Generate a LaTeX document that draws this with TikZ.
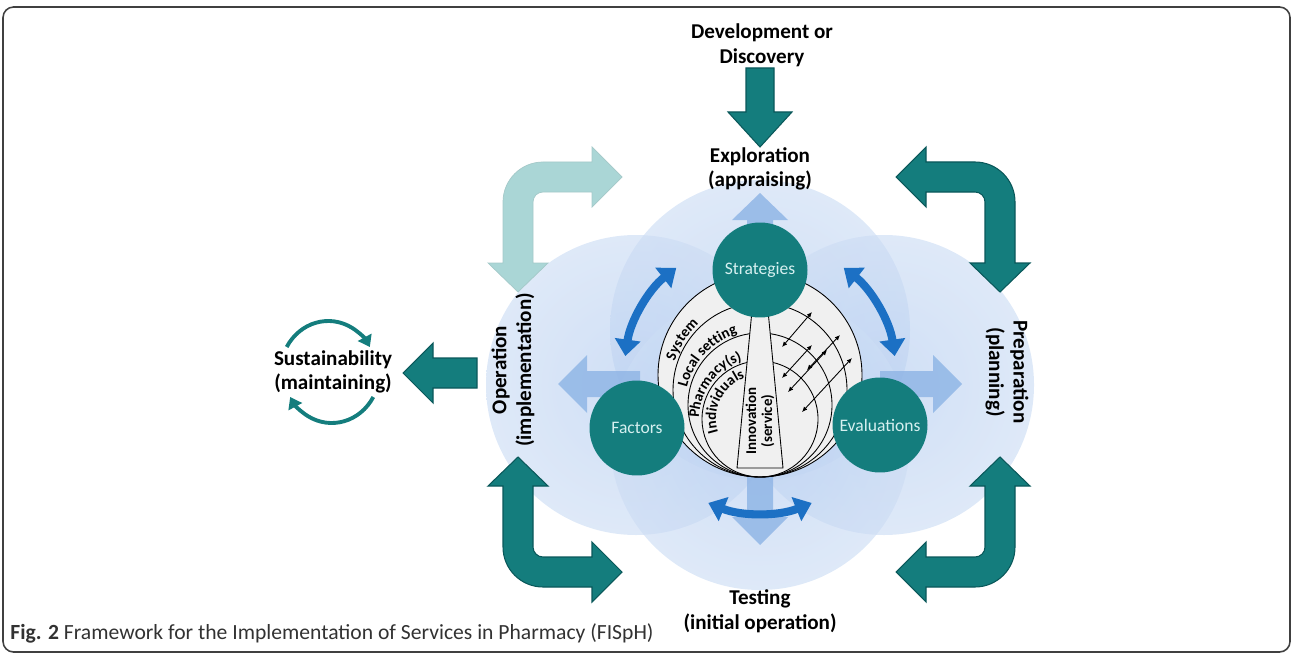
\documentclass[tikz,border=0pt]{standalone}
\usepackage{fontspec}
\setmainfont{Carlito}
\usepackage{xcolor}
\usepackage{tikz}
\usetikzlibrary{arrows.meta,decorations.text}

\definecolor{tealA}{RGB}{20,125,125}
\definecolor{tealD}{RGB}{10,88,90}
\definecolor{tealL}{RGB}{170,214,214}
\definecolor{spinblue}{RGB}{28,112,196}
\definecolor{paleblue}{RGB}{145,182,230}
\definecolor{blobin}{RGB}{182,206,240}
\definecolor{blobout}{RGB}{228,236,249}
\definecolor{ringfill}{RGB}{240,240,240}
\definecolor{captext}{RGB}{50,50,50}
\definecolor{celltext}{RGB}{214,240,240}

\newcommand\ringfont{\fontsize{8.5}{9}\selectfont\bfseries}

\pgfdeclareradialshading{blob}{\pgfpoint{0bp}{0bp}}{color(0bp)=(blobin); color(50bp)=(blobout); color(75bp)=(blobout)}

\begin{document}
\begin{tikzpicture}[x=0.02cm, y=-0.02cm]
        \tikzset{phase/.style = {font=\fontsize{12}{14}\selectfont\bfseries, align=center}}
        \tikzset{cell/.style = {shape=circle, fill=tealA, minimum size=1.9cm, inner sep=0pt, text=celltext, font=\fontsize{10}{12}\selectfont}}
        \tikzset{ringlabel/.style = {decorate, decoration={text along path, text align=center, text={|\ringfont|#1}}}}
        \tikzset{spin/.style = {draw=spinblue, line width=4.6pt, >={Triangle[width=0.5cm,length=0.33cm]}, <->}}
        \tikzset{link/.style = {line width=0.5pt, >={Latex[length=3pt,width=2.6pt]}, <->}}
        \tikzset{cyclearc/.style = {draw=tealA, line width=2.2pt, -{Triangle[width=0.3cm,length=0.22cm]}}}
        \tikzset{bigarrow/.style = {fill=tealA, draw=tealD, line width=0.6pt}}
        \tikzset{softarrow/.style = {fill=paleblue, fill opacity=0.85}}
        \tikzset{bendstyle/.style = {bigarrow}}
        \tikzset{bendarrow/.pic = {\path[bendstyle] (0,115) -- (30,86) -- (15,86) -- (15,25)
            arc[start angle=-180, end angle=-90, radius=10] -- (74,15) -- (74,30) -- (104,0)
            -- (74,-30) -- (74,-15) -- (25,-15) arc[start angle=-90, end angle=-180, radius=40]
            -- (-15,86) -- (-30,86) -- cycle;}}
        \useasboundingbox (0,0) rectangle (1293,655);
        % background blobs
        \shade[shading=blob, opacity=0.65] (760,330) circle[radius=150];
        \shade[shading=blob, opacity=0.65] (636,385) circle[radius=150];
        \shade[shading=blob, opacity=0.65] (884,385) circle[radius=150];
        \shade[shading=blob, opacity=0.65] (760,440) circle[radius=150];
        % pale arrows out of the core
        \path[softarrow] (747,265) -- (747,220) -- (732,220) -- (760,193) -- (788,220) -- (773,220) -- (773,265) -- cycle;
        \path[softarrow] (747,468) -- (747,517) -- (732,517) -- (760,545) -- (788,517) -- (773,517) -- (773,468) -- cycle;
        \path[softarrow] (640,371) -- (587,371) -- (587,355) -- (558,384) -- (587,413) -- (587,397) -- (640,397) -- cycle;
        \path[softarrow] (880,371) -- (933,371) -- (933,355) -- (962,384) -- (933,413) -- (933,397) -- (880,397) -- cycle;
        % core rings, all touching at the bottom
        \coordinate (c) at (760,375);
        \coordinate (c2) at (760,390);
        \coordinate (c3) at (760,405);
        \coordinate (c4) at (760,419);
        \draw[fill=ringfill, line width=0.5pt] (c) circle[radius=102];
        \draw[line width=0.5pt] (c2) circle[radius=87];
        \draw[line width=0.5pt] (c3) circle[radius=72];
        \draw[line width=0.5pt] (c4) circle[radius=58];
        \path[ringlabel=System] ([shift={(-197:90)}]c2) arc[start angle=-197, end angle=-97, radius=90];
        \path[ringlabel=Local setting] ([shift={(-192:75)}]c3) arc[start angle=-192, end angle=-82, radius=75];
        \path[ringlabel=Pharmacy(s)] ([shift={(-203:61)}]c4) arc[start angle=-203, end angle=-83, radius=61];
        \path[ringlabel=Individuals] ([shift={(-219:44)}]c4) arc[start angle=-219, end angle=-89, radius=44];
        \draw[fill=ringfill, line width=0.5pt] (753,300) -- (767,300) -- (783,468) -- (737,468) -- cycle;
        \node[rotate=90, align=center, font=\fontsize{8.5}{9}\selectfont\bfseries, inner sep=0pt] (inn) at (760,421) {Innovation\\(service)};
        \draw[link] (782,347) -- (812,312);
        \draw[link] (782,378) -- (812,345);
        \draw[link] (788,392) -- (827,350);
        \draw[link] (807,370) -- (840,335);
        \draw[link] (802,412) -- (852,358);
        % cells
        \node[cell] (strat) at (760,270) {Strategies};
        \node[cell] (fact) at (637,428) {Factors};
        \node[cell] (eval) at (880,425) {Evaluations};
        \draw[spin] ([shift={(-128:136)}]c) arc[start angle=-128, end angle=-172, radius=136];
        \draw[spin] ([shift={(-52:136)}]c) arc[start angle=-52, end angle=-8, radius=136];
        \draw[spin] ([shift={(-248:138)}]c) arc[start angle=-248, end angle=-292, radius=138];
        % outer arrows
        \path[bigarrow] (746,68) -- (746,112) -- (728,112) -- (760,147) -- (792,112) -- (774,112) -- (774,68) -- cycle;
        \path[bigarrow] (477,358) -- (433,358) -- (433,343) -- (403,373) -- (433,403) -- (433,388) -- (477,388) -- cycle;
        \pic[bendstyle/.style={fill=tealL, draw=tealL!85!gray, line width=0.4pt}] at (518,177) {bendarrow};
        \pic[xscale=-1] at (1000,177) {bendarrow};
        \pic[yscale=-1] at (518,572) {bendarrow};
        \pic[xscale=-1, yscale=-1] at (1000,572) {bendarrow};
        \coordinate (loop) at (330,372);
        \draw[cyclearc] ([shift={(-150:50)}]loop) arc[start angle=-150, end angle=-30, x radius=48, y radius=52];
        \draw[cyclearc] ([shift={(30:50)}]loop) arc[start angle=30, end angle=150, x radius=48, y radius=52];
        % phases
        \node[phase] (dev) at (762,45) {Development or\\Discovery};
        \node[phase] (expl) at (760,169) {Exploration\\(appraising)};
        \node[phase] (test) at (760,611) {Testing\\(initial operation)};
        \node[phase, rotate=90] (oper) at (513,370) {Operation\\(implementation)};
        \node[phase, rotate=-90] (prep) at (1007,372) {Preparation\\(planning)};
        \node[phase] (sust) at (333,372) {Sustainability\\(maintaining)};
        \node[anchor=west, text=captext, font=\fontsize{12.3}{14}\selectfont, inner sep=0pt] (cap) at (10,633) {\textbf{Fig. 2} Framework for the Implementation of Services in Pharmacy (FISpH)};
        \draw[rounded corners=6pt, line width=0.9pt, black!75] (3,7) rectangle (1290,652);
\end{tikzpicture}
\end{document}
